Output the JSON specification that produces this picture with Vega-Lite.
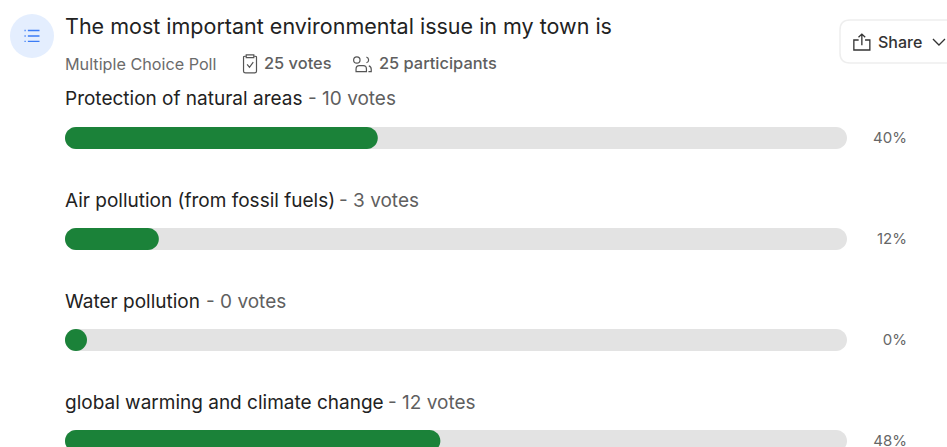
{
"$schema":"https://vega.github.io/schema/vega-lite/v6.json",
"width":947,"height":447,"padding":0,
"autosize":{"type":"none"},
"background":"white",
"config":{"view":{"stroke":null},"text":{"font":"Inter"}},
"datasets":{
"options":[
{"option":"Protection of natural areas","votes":10,"voteLabel":"- 10 votes","start":0,"full":100,"percent":40,"percentLabel":"40%","row":0},
{"option":"Air pollution (from fossil fuels)","votes":3,"voteLabel":"- 3 votes","start":0,"full":100,"percent":12,"percentLabel":"12%","row":1},
{"option":"Water pollution","votes":0,"voteLabel":"- 0 votes","start":0,"full":100,"percent":0,"percentLabel":"0%","row":2},
{"option":"global warming and climate change","votes":12,"voteLabel":"- 12 votes","start":0,"full":100,"percent":48,"percentLabel":"48%","row":3}
],
"pollTitle":[{"label":"The most important environmental issue in my town is"}],
"pollType":[{"label":"Multiple Choice Poll"}],
"voteCount":[{"label":"25 votes"}],
"participants":[{"label":"25 participants"}],
"share":[{"label":"Share"}],
"one":[{"item":"icon"}]
},
"layer":[
{"data":{"name":"options"},
 "mark":{"type":"bar","orient":"horizontal","size":22,"cornerRadius":11,"color":"#e3e3e3","clip":true},
 "encoding":{
  "x":{"field":"start","type":"quantitative","axis":null,"scale":{"domain":[-8.312,112.788],"nice":false,"zero":false,"padding":0}},
  "x2":{"field":"full"},
  "y":{"field":"row","type":"quantitative","axis":null,"scale":{"domain":[-1.366,3.059],"reverse":true,"nice":false,"zero":false,"padding":0}}}},
{"data":{"name":"options"},"transform":[{"filter":"datum.votes > 0"}],
 "mark":{"type":"bar","orient":"horizontal","size":22,"cornerRadius":11,"color":"#1b8239","clip":true},
 "encoding":{"x":{"field":"start","type":"quantitative","axis":null},"x2":{"field":"percent"},"y":{"field":"row","type":"quantitative","axis":null}}},
{"data":{"name":"options"},"transform":[{"filter":"datum.votes === 0"}],
 "mark":{"type":"point","shape":"circle","filled":true,"size":484,"opacity":1,"color":"#1b8239","xOffset":11},
 "encoding":{"x":{"field":"percent","type":"quantitative","axis":null},"y":{"field":"row","type":"quantitative","axis":null}}},
{"data":{"name":"options"},
 "mark":{"type":"text","align":"left","baseline":"middle","dy":-38.5,"fontSize":19,"fontWeight":400,"color":"#222222"},
 "encoding":{"x":{"field":"start","type":"quantitative","axis":null},"y":{"field":"row","type":"quantitative","axis":null},"text":{"field":"option"}}},
{"data":{"name":"options"},"transform":[{"filter":"datum.row === 0"}],
 "mark":{"type":"text","align":"left","baseline":"middle","dy":-38.5,"dx":243,"fontSize":19,"color":"#5f5f5f"},
 "encoding":{"x":{"field":"start","type":"quantitative","axis":null},"y":{"field":"row","type":"quantitative","axis":null},"text":{"field":"voteLabel"}}},
{"data":{"name":"options"},"transform":[{"filter":"datum.row === 1"}],
 "mark":{"type":"text","align":"left","baseline":"middle","dy":-38.5,"dx":274,"fontSize":19,"color":"#5f5f5f"},
 "encoding":{"x":{"field":"start","type":"quantitative","axis":null},"y":{"field":"row","type":"quantitative","axis":null},"text":{"field":"voteLabel"}}},
{"data":{"name":"options"},"transform":[{"filter":"datum.row === 2"}],
 "mark":{"type":"text","align":"left","baseline":"middle","dy":-38.5,"dx":141,"fontSize":19,"color":"#5f5f5f"},
 "encoding":{"x":{"field":"start","type":"quantitative","axis":null},"y":{"field":"row","type":"quantitative","axis":null},"text":{"field":"voteLabel"}}},
{"data":{"name":"options"},"transform":[{"filter":"datum.row === 3"}],
 "mark":{"type":"text","align":"left","baseline":"middle","dy":-38.5,"dx":323,"fontSize":19,"color":"#5f5f5f"},
 "encoding":{"x":{"field":"start","type":"quantitative","axis":null},"y":{"field":"row","type":"quantitative","axis":null},"text":{"field":"voteLabel"}}},
{"data":{"name":"options"},
 "mark":{"type":"text","align":"right","baseline":"middle","dy":0,"dx":60,"fontSize":15,"color":"#666666"},
 "encoding":{"x":{"field":"full","type":"quantitative","axis":null},"y":{"field":"row","type":"quantitative","axis":null},"text":{"field":"percentLabel"}}},
{"data":{"name":"one"},
 "mark":{"type":"point","shape":"circle","filled":true,"size":1936,"opacity":1,"color":"#e4eefe"},
 "encoding":{"x":{"datum":-4.22,"type":"quantitative","axis":null},"y":{"datum":-1.01,"type":"quantitative","axis":null}}},
{"data":{"name":"one"},
 "mark":{"type":"point","shape":"M-1 -0.72L-0.84 -0.72M-0.55 -0.72L1 -0.72M-1 0L-0.84 0M-0.55 0L1 0M-1 0.72L-0.84 0.72M-0.55 0.72L1 0.72","filled":false,"size":225,"opacity":1,"strokeWidth":1.4,"color":"#3b7cf6"},
 "encoding":{"x":{"datum":-4.22,"type":"quantitative","axis":null},"y":{"datum":-1.01,"type":"quantitative","axis":null}}},
{"data":{"name":"pollTitle"},
 "mark":{"type":"text","align":"left","baseline":"middle","fontSize":21.5,"fontWeight":400,"color":"#222222","dy":1},
 "encoding":{"x":{"datum":0,"type":"quantitative","axis":null},"y":{"datum":-1.099,"type":"quantitative","axis":null},"text":{"field":"label"}}},
{"data":{"name":"pollType"},
 "mark":{"type":"text","align":"left","baseline":"middle","fontSize":16.2,"color":"#6b6b6b","dy":1},
 "encoding":{"x":{"datum":0,"type":"quantitative","axis":null},"y":{"datum":-0.733,"type":"quantitative","axis":null},"text":{"field":"label"}}},
{"data":{"name":"voteCount"},
 "mark":{"type":"text","align":"left","baseline":"middle","fontSize":16.4,"fontWeight":500,"color":"#5f5f5f"},
 "encoding":{"x":{"datum":25.45,"type":"quantitative","axis":null},"y":{"datum":-0.733,"type":"quantitative","axis":null},"text":{"field":"label"}}},
{"data":{"name":"participants"},
 "mark":{"type":"text","align":"left","baseline":"middle","fontSize":16.4,"fontWeight":500,"color":"#5f5f5f"},
 "encoding":{"x":{"datum":40.15,"type":"quantitative","axis":null},"y":{"datum":-0.733,"type":"quantitative","axis":null},"text":{"field":"label"}}},
{"data":{"name":"one"},
 "mark":{"type":"point","shape":"M-0.72 -0.78L-0.72 0.82Q-0.72 1 -0.5 1L0.5 1Q0.72 1 0.72 0.82L0.72 -0.78Q0.72 -0.88 0.45 -0.88M-0.72 -0.78Q-0.72 -0.88 -0.45 -0.88M-0.42 -1L0.42 -1L0.42 -0.7L-0.42 -0.7ZM-0.32 0.05L-0.06 0.38L0.36 -0.2","filled":false,"size":324,"opacity":1,"strokeWidth":1.2,"color":"#555555"},
 "encoding":{"x":{"datum":23.66,"type":"quantitative","axis":null},"y":{"datum":-0.733,"type":"quantitative","axis":null}}},
{"data":{"name":"one"},
 "mark":{"type":"point","shape":"M-0.5 -0.5A0.4 0.4 0 1 0 -0.5 -0.49ZM-1 0.95L-1 0.65Q-1 0.2 -0.6 0.2L-0.1 0.2Q0.3 0.2 0.3 0.65L0.3 0.95ZM0.3 -0.85A0.36 0.36 0 0 1 0.3 -0.15M0.6 0.25Q0.9 0.35 0.9 0.65L0.9 0.95L0.55 0.95","filled":false,"size":256,"opacity":1,"strokeWidth":1.2,"color":"#555555"},
 "encoding":{"x":{"datum":38.24,"type":"quantitative","axis":null},"y":{"datum":-0.733,"type":"quantitative","axis":null}}},
{"data":{"name":"one"},
 "mark":{"type":"point","shape":"M-0.917 -0.179L1 -0.179L1 0.179L-0.917 0.179Q-1 0.179 -1 0.096L-1 -0.096Q-1 -0.179 -0.917 -0.179Z","filled":true,"fill":"white","stroke":"#eeeeee","strokeWidth":1.5,"size":57600,"opacity":1,"clip":true},
 "encoding":{"x":{"datum":114.45,"type":"quantitative","axis":null},"y":{"datum":-0.9555,"type":"quantitative","axis":null}}},
{"data":{"name":"one"},
 "mark":{"type":"point","shape":"M-0.4 -0.25L-1 -0.25L-1 1L1 1L1 -0.25L0.4 -0.25M0 0.4L0 -1M-0.42 -0.6L0 -1L0.42 -0.6","filled":false,"size":256,"opacity":1,"strokeWidth":1.3,"color":"#333333"},
 "encoding":{"x":{"datum":101.9,"type":"quantitative","axis":null},"y":{"datum":-0.95,"type":"quantitative","axis":null}}},
{"data":{"name":"share"},
 "mark":{"type":"text","align":"left","baseline":"middle","fontSize":16,"fontWeight":500,"color":"#333333","dy":1},
 "encoding":{"x":{"datum":103.96,"type":"quantitative","axis":null},"y":{"datum":-0.95,"type":"quantitative","axis":null},"text":{"field":"label"}}},
{"data":{"name":"one"},
 "mark":{"type":"point","shape":"M-1 -0.5L0 0.5L1 -0.5","filled":false,"size":144,"opacity":1,"strokeWidth":1.3,"color":"#333333"},
 "encoding":{"x":{"datum":111.76,"type":"quantitative","axis":null},"y":{"datum":-0.95,"type":"quantitative","axis":null}}}
]
}
